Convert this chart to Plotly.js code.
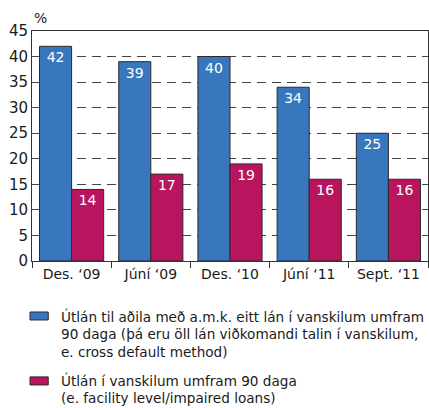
<!DOCTYPE html>
<html>
<head>
<meta charset="utf-8">
<script src="https://cdn.plot.ly/plotly-3.0.1.min.js"></script>
<style>
  html, body { margin: 0; padding: 0; background: #fff; }
  #chart { width: 429px; height: 408px; }
</style>
</head>
<body>
<div id="chart"></div>
<script>
// Vanskil útlána
const categories = ['Des. ‘09', 'Júní ‘09', 'Des. ‘10', 'Júní ‘11', 'Sept. ‘11'];
const crossDefault = [42, 39, 40, 34, 25];
const facilityLevel = [14, 17, 19, 16, 16];
const yTicks = [0, 5, 10, 15, 20, 25, 30, 35, 40, 45];

const nameCross = [
  'Útlán til aðila með a.m.k. eitt lán í vanskilum umfram',
  '90 daga (þá eru öll lán viðkomandi talin í vanskilum,',
  'e. cross default method)'
];
const nameFacility = [
  'Útlán í vanskilum umfram 90 daga',
  '(e. facility level/impaired loans)'
];

const blue = '#3877be';
const magenta = '#b9145e';
const edge = '#2b2b2b';
const font = 'DejaVu Sans, sans-serif';

const traces = [
  {
    x: categories, y: crossDefault, name: nameCross.join(' '), type: 'bar',
    marker: { color: blue, line: { color: edge, width: 1 } },
    text: crossDefault.map(String), textposition: 'inside', insidetextanchor: 'end',
    textfont: { color: '#fff', size: 14, family: font },
    hoverinfo: 'none'
  },
  {
    x: categories, y: facilityLevel, name: nameFacility.join(' '), type: 'bar',
    marker: { color: magenta, line: { color: edge, width: 1 } },
    text: facilityLevel.map(String), textposition: 'inside', insidetextanchor: 'end',
    textfont: { color: '#fff', size: 14, family: font },
    hoverinfo: 'none'
  }
];

// legend drawn by hand: wide flat swatches and 18px line spacing like the original
const legendShapes = [
  { type: 'rect', xref: 'paper', yref: 'paper', x0: -0.005, x1: 0.041, y0: -0.2565, y1: -0.2217,
    fillcolor: blue, line: { color: edge, width: 1 } },
  { type: 'rect', xref: 'paper', yref: 'paper', x0: -0.005, x1: 0.041, y0: -0.539, y1: -0.504,
    fillcolor: magenta, line: { color: edge, width: 1 } }
];

const legendText = [];
function addLegendLines(lines, firstY) {
  lines.forEach(function (line, i) {
    legendText.push({
      xref: 'paper', yref: 'paper', x: 0.068, y: firstY - i * 18 / 230,
      xanchor: 'left', yanchor: 'middle', align: 'left',
      text: line, showarrow: false, font: { size: 13.6 }
    });
  });
}
addLegendLines(nameCross, -55 / 230);
addLegendLines(nameFacility, -119 / 230);

const layout = {
  width: 429, height: 408,
  margin: { l: 32, r: 1, t: 31, b: 147 },
  barmode: 'group', bargap: 0.19, bargroupgap: 0,
  paper_bgcolor: '#fff', plot_bgcolor: '#fff',
  font: { family: font, color: '#1a1a1a' },
  xaxis: {
    type: 'category', showline: true, linecolor: '#333', linewidth: 1, mirror: true,
    ticks: 'outside', tickson: 'boundaries', ticklen: 6, tickcolor: '#333',
    tickfont: { size: 14 }, showgrid: false
  },
  yaxis: {
    range: [0, 45], tickvals: yTicks, showline: true, linecolor: '#333', linewidth: 1, mirror: true,
    ticks: '', tickfont: { size: 15 },
    showgrid: true, gridcolor: '#444', griddash: '9px,6px', gridwidth: 1,
    zeroline: false
  },
  showlegend: false,
  shapes: legendShapes,
  annotations: [
    { xref: 'paper', yref: 'paper', x: 0, y: 1.0, yshift: 3, xanchor: 'left', yanchor: 'bottom',
      text: '%', showarrow: false, font: { size: 14 } }
  ].concat(legendText)
};

Plotly.newPlot('chart', traces, layout, { displayModeBar: false, staticPlot: true });
</script>
</body>
</html>
